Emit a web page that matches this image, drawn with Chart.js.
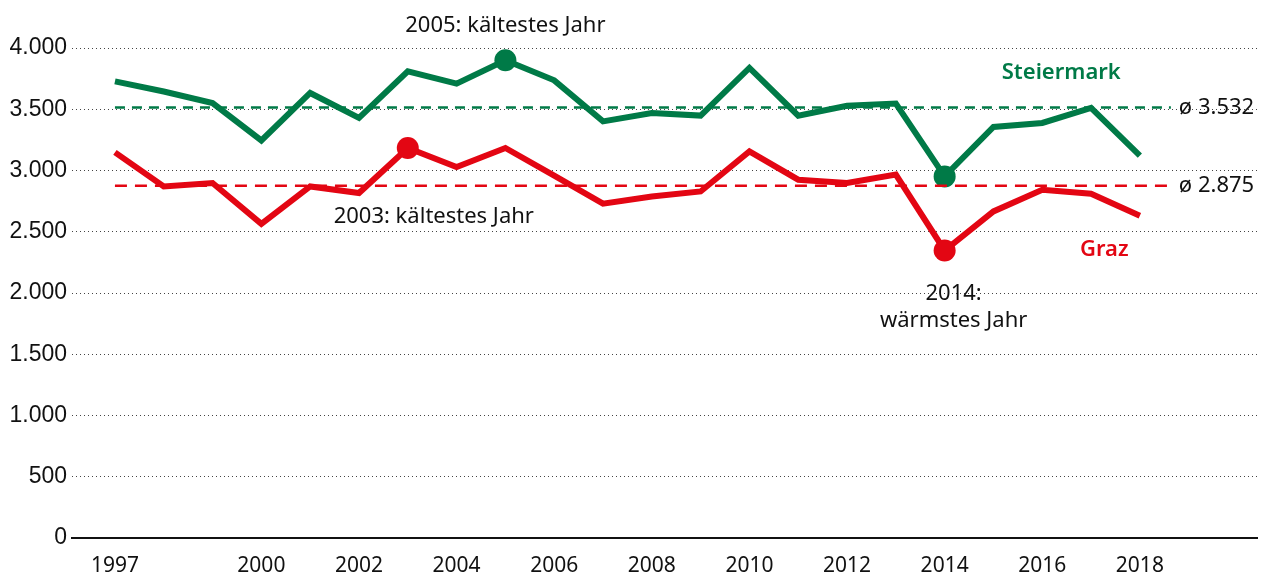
<!DOCTYPE html>
<html>
<head>
<meta charset="utf-8">
<script src="https://cdn.jsdelivr.net/npm/chart.js@4/dist/chart.umd.min.js"></script>
<style>
  html, body { margin: 0; padding: 0; background: #fff; }
  #wrap { width: 1261px; height: 575px; position: relative; }
</style>
</head>
<body>
<div id="wrap"><canvas id="chart"></canvas></div>
<script>
// Daten
const years = [1997, 1998, 1999, 2000, 2001, 2002, 2003, 2004, 2005, 2006, 2007,
               2008, 2009, 2010, 2011, 2012, 2013, 2014, 2015, 2016, 2017, 2018];
const steiermark = [3728, 3645, 3551, 3245, 3633, 3429, 3810, 3709, 3900, 3736, 3401,
                    3470, 3448, 3837, 3448, 3529, 3546, 2952, 3355, 3388, 3511, 3121];
const graz = [3148, 2870, 2898, 2565, 2870, 2816, 3184, 3029, 3184, 2958, 2729,
              2788, 2829, 3156, 2925, 2898, 2966, 2347, 2666, 2843, 2810, 2631];
const averages = [3515, 2875];           // Steiermark, Graz (Lage der Linie im Bild)
const averageLabels = ['ø 3.532', 'ø 2.875'];
const xTickYears = [1997, 2000, 2002, 2004, 2006, 2008, 2010, 2012, 2014, 2016, 2018];
const yTicks = [0, 500, 1000, 1500, 2000, 2500, 3000, 3500, 4000];
const highlightSteiermark = [2005, 2014];
const highlightGraz = [2003, 2014];

const GREEN = '#007a47';
const RED = '#e30613';
const FONT = '"Noto Sans", sans-serif';

function toPoints(vals) {
    return years.map((y, i) => ({ x: y, y: vals[i] }));
}
function radii(list) {
    return years.map(y => list.includes(y) ? 11 : 0);
}

// Beschriftungen, Hilfslinien
const annotationPlugin = {
    id: 'annotations',
    afterDatasetsDraw(chart) {
        const ctx = chart.ctx;
        const xs = chart.scales.x;
        const ys = chart.scales.y;
        const i2003 = years.indexOf(2003);
        const i2005 = years.indexOf(2005);
        const i2014 = years.indexOf(2014);

        ctx.save();
        // Durchschnittslinien
        const labelX = xs.getPixelForValue(2018) + 39;
        [[averages[0], GREEN, [10, 7]], [averages[1], RED, [12, 8]]].forEach(([v, c, dash], k) => {
            const py = ys.getPixelForValue(v);
            ctx.strokeStyle = c;
            ctx.lineWidth = 2.5;
            ctx.setLineDash(dash);
            ctx.beginPath();
            ctx.moveTo(xs.getPixelForValue(years[0]), py);
            ctx.lineTo(labelX - 8, py);
            ctx.stroke();
            ctx.setLineDash([]);
            ctx.fillStyle = '#111';
            ctx.font = '22px ' + FONT;
            ctx.textAlign = 'left';
            ctx.textBaseline = 'middle';
            ctx.fillText(averageLabels[k], labelX, py);
        });

        ctx.fillStyle = '#111';
        ctx.font = '22px ' + FONT;
        ctx.textAlign = 'center';
        ctx.textBaseline = 'middle';
        ctx.fillText('2005: kältestes Jahr', xs.getPixelForValue(2005),
                     ys.getPixelForValue(steiermark[i2005]) - 35);
        ctx.fillText('2003: kältestes Jahr', xs.getPixelForValue(2003) + 26,
                     ys.getPixelForValue(graz[i2003]) + 69);
        ctx.fillText('2014:', xs.getPixelForValue(2014) + 9,
                     ys.getPixelForValue(graz[i2014]) + 43);
        ctx.fillText('wärmstes Jahr', xs.getPixelForValue(2014) + 9,
                     ys.getPixelForValue(graz[i2014]) + 70);

        ctx.font = '600 22px ' + FONT;
        ctx.fillStyle = GREEN;
        ctx.fillText('Steiermark', xs.getPixelForValue(2016) + 19, ys.getPixelForValue(3800));
        ctx.fillStyle = RED;
        ctx.fillText('Graz', xs.getPixelForValue(2017.27), ys.getPixelForValue(2350));
        ctx.restore();
    }
};

new Chart(document.getElementById('chart'), {
    type: 'line',
    data: {
        datasets: [{
            label: 'Steiermark',
            data: toPoints(steiermark),
            borderColor: GREEN,
            backgroundColor: GREEN,
            borderWidth: 6,
            pointRadius: radii(highlightSteiermark),
            pointBorderWidth: 0,
            tension: 0
        }, {
            label: 'Graz',
            data: toPoints(graz),
            borderColor: RED,
            backgroundColor: RED,
            borderWidth: 6,
            pointRadius: radii(highlightGraz),
            pointBorderWidth: 0,
            tension: 0
        }]
    },
    options: {
        responsive: true,
        maintainAspectRatio: false,
        animation: false,
        layout: { padding: { top: 48, right: 4, left: 0, bottom: 0 } },
        plugins: {
            legend: { display: false },
            tooltip: { enabled: false }
        },
        scales: {
            x: {
                type: 'linear',
                min: 1996.12,
                max: 2020.4,
                afterBuildTicks: (scale) => {
                    scale.ticks = xTickYears.map(v => ({ value: v }));
                },
                afterFit: (scale) => { scale.height = 37; },
                ticks: {
                    autoSkip: false,
                    maxRotation: 0,
                    padding: 15,
                    color: '#111',
                    font: { family: FONT, size: 21 },
                    callback: (v) => String(v)
                },
                grid: { display: false, drawTicks: false },
                border: { display: true, color: '#111', width: 2 }
            },
            y: {
                min: 0,
                max: 4000,
                afterBuildTicks: (scale) => {
                    scale.ticks = yTicks.map(v => ({ value: v }));
                },
                afterFit: (scale) => { scale.width = 72; },
                ticks: {
                    padding: 5,
                    color: '#111',
                    font: { family: '"Liberation Sans", Arial, sans-serif', size: 23 },
                    callback: (v) => v.toLocaleString('de-DE')
                },
                grid: { color: '#444', lineWidth: 1, drawTicks: false },
                border: { display: false, dash: [1, 3] }
            }
        }
    },
    plugins: [annotationPlugin]
});
</script>
</body>
</html>
